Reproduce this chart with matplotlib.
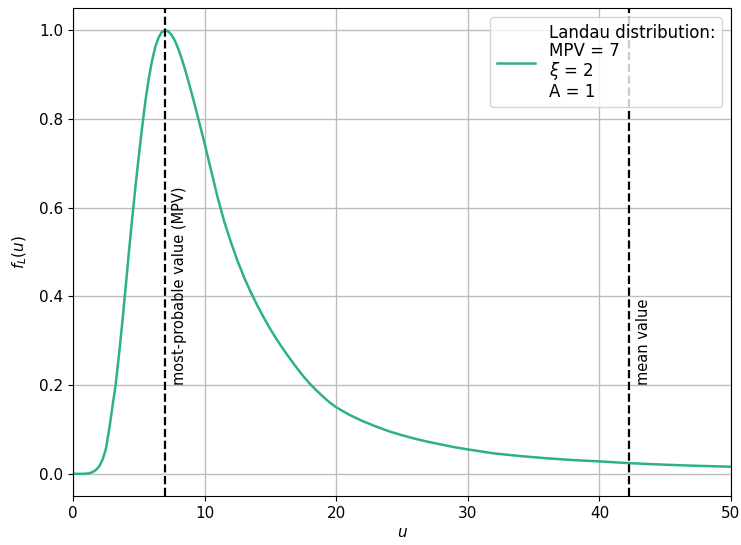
import matplotlib
matplotlib.use("Agg")
import matplotlib.pyplot as plt

# values
u_vals = [0.0, 0.8, 1.2, 1.5, 1.75, 2.0, 2.25, 2.5, 2.75, 3.0, 3.24, 3.5, 3.75, 4.0,
          4.25, 4.5, 4.75, 5.0, 5.25, 5.5, 5.75, 6.0, 6.25, 6.5, 6.75, 7.0,
          7.25, 7.5, 7.75, 8.0, 8.25, 8.5, 8.75, 9.0, 9.25, 9.5, 9.75, 10.0,
          10.5, 11.0, 11.5, 12.0, 12.5, 13.0, 13.5, 14.0, 14.5, 15.0, 15.5, 16.0,
          16.5, 17.0, 17.5, 18.0, 18.5, 19.0, 19.5, 20.0, 21.0, 22.0, 23.0, 24.0,
          25.0, 26.0, 27.0, 28.0, 29.0, 30.0, 32.0, 34.0, 36.0, 38.0, 40.0, 42.3,
          45.0, 47.5, 50.0]
f_vals = [0.0, 0.0, 0.001, 0.004, 0.009, 0.017, 0.032, 0.056, 0.100, 0.152, 0.200, 0.270,
          0.342, 0.420, 0.500, 0.576, 0.648, 0.716, 0.780, 0.840, 0.890, 0.930, 0.962,
          0.983, 0.996, 1.000, 0.997, 0.989, 0.976, 0.958, 0.937, 0.913, 0.887, 0.860,
          0.832, 0.803, 0.774, 0.745, 0.683, 0.622, 0.568, 0.522, 0.480, 0.443, 0.410,
          0.380, 0.352, 0.326, 0.302, 0.280, 0.259, 0.239, 0.220, 0.203, 0.188, 0.174,
          0.161, 0.150, 0.133, 0.119, 0.107, 0.096, 0.087, 0.079, 0.072, 0.066, 0.060,
          0.055, 0.046, 0.040, 0.035, 0.031, 0.028, 0.024, 0.0205, 0.018, 0.016]

mpv = 7.0
mean_value = 42.25
legend_label = "Landau distribution:\nMPV = 7\n$\\xi$ = 2\nA = 1"

fig = plt.figure(figsize=(7.41, 5.45), dpi=100)
ax = fig.add_axes([0.0985, 0.0899, 0.888, 0.8954])

ax.plot(u_vals, f_vals, color="#2db47c", lw=1.8, label=legend_label)
ax.axvline(mpv, color="black", ls="--", lw=1.6)
ax.axvline(mean_value, color="black", ls="--", lw=1.6)
ax.text(mpv + 0.5, 0.2, "most-probable value (MPV)", rotation=90, ha="left", va="bottom", fontsize=10.5)
ax.text(mean_value + 0.5, 0.2, "mean value", rotation=90, ha="left", va="bottom", fontsize=10.5)

ax.set_xlim(0, 50)
ax.set_ylim(-0.05, 1.05)
ax.set_xlabel("$u$", fontsize=11, labelpad=3)
ax.set_ylabel("$f_L(u)$", fontsize=11, labelpad=7)
ax.tick_params(labelsize=11)
ax.grid(True, color="#bdbdbd", lw=1.0)
leg = ax.legend(loc="upper right", fontsize=12, handlelength=2.3, borderaxespad=0.55)
for t in leg.get_texts():
    t.set_linespacing(1.02)

fig.savefig("out.png", dpi=100)
